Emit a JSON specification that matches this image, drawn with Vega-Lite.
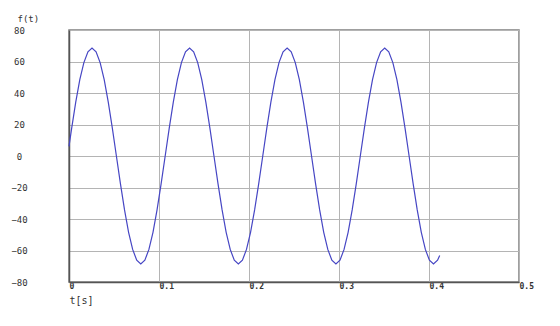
{
  "$schema": "https://vega.github.io/schema/vega-lite/v6.json",
  "autosize": "none",
  "width": 450,
  "height": 252,
  "padding": {"left": 69, "top": 30, "right": 41, "bottom": 44},
  "background": "white",
  "config": {
    "view": {"stroke": "#808080", "strokeWidth": 1.5},
    "font": "DejaVu Sans Mono"
  },
  "data": {
    "values": [
      {"t": 0.0, "f": 6.1},
      {"t": 0.00298, "f": 17.73},
      {"t": 0.00749, "f": 34.25},
      {"t": 0.01201, "f": 48.44},
      {"t": 0.01653, "f": 59.32},
      {"t": 0.02104, "f": 66.17},
      {"t": 0.02556, "f": 68.5},
      {"t": 0.03008, "f": 66.17},
      {"t": 0.03459, "f": 59.32},
      {"t": 0.03911, "f": 48.44},
      {"t": 0.04363, "f": 34.25},
      {"t": 0.04815, "f": 17.73},
      {"t": 0.05266, "f": 0},
      {"t": 0.05718, "f": -17.73},
      {"t": 0.0617, "f": -34.25},
      {"t": 0.06621, "f": -48.44},
      {"t": 0.07073, "f": -59.32},
      {"t": 0.07525, "f": -66.17},
      {"t": 0.07976, "f": -68.5},
      {"t": 0.08428, "f": -66.17},
      {"t": 0.0888, "f": -59.32},
      {"t": 0.09332, "f": -48.44},
      {"t": 0.09783, "f": -34.25},
      {"t": 0.10235, "f": -17.73},
      {"t": 0.10687, "f": 0},
      {"t": 0.11138, "f": 17.73},
      {"t": 0.1159, "f": 34.25},
      {"t": 0.12042, "f": 48.44},
      {"t": 0.12493, "f": 59.32},
      {"t": 0.12945, "f": 66.17},
      {"t": 0.13397, "f": 68.5},
      {"t": 0.13849, "f": 66.17},
      {"t": 0.143, "f": 59.32},
      {"t": 0.14752, "f": 48.44},
      {"t": 0.15204, "f": 34.25},
      {"t": 0.15656, "f": 17.73},
      {"t": 0.16107, "f": 0},
      {"t": 0.16559, "f": -17.73},
      {"t": 0.17011, "f": -34.25},
      {"t": 0.17462, "f": -48.44},
      {"t": 0.17914, "f": -59.32},
      {"t": 0.18366, "f": -66.17},
      {"t": 0.18817, "f": -68.5},
      {"t": 0.19269, "f": -66.17},
      {"t": 0.19721, "f": -59.32},
      {"t": 0.20173, "f": -48.44},
      {"t": 0.20624, "f": -34.25},
      {"t": 0.21076, "f": -17.73},
      {"t": 0.21528, "f": 0},
      {"t": 0.21979, "f": 17.73},
      {"t": 0.22431, "f": 34.25},
      {"t": 0.22883, "f": 48.44},
      {"t": 0.23334, "f": 59.32},
      {"t": 0.23786, "f": 66.17},
      {"t": 0.24238, "f": 68.5},
      {"t": 0.2469, "f": 66.17},
      {"t": 0.25141, "f": 59.32},
      {"t": 0.25593, "f": 48.44},
      {"t": 0.26045, "f": 34.25},
      {"t": 0.26496, "f": 17.73},
      {"t": 0.26948, "f": 0},
      {"t": 0.274, "f": -17.73},
      {"t": 0.27851, "f": -34.25},
      {"t": 0.28303, "f": -48.44},
      {"t": 0.28755, "f": -59.32},
      {"t": 0.29207, "f": -66.17},
      {"t": 0.29658, "f": -68.5},
      {"t": 0.3011, "f": -66.17},
      {"t": 0.30562, "f": -59.32},
      {"t": 0.31013, "f": -48.44},
      {"t": 0.31465, "f": -34.25},
      {"t": 0.31917, "f": -17.73},
      {"t": 0.32368, "f": 0},
      {"t": 0.3282, "f": 17.73},
      {"t": 0.33272, "f": 34.25},
      {"t": 0.33724, "f": 48.44},
      {"t": 0.34175, "f": 59.32},
      {"t": 0.34627, "f": 66.17},
      {"t": 0.35079, "f": 68.5},
      {"t": 0.3553, "f": 66.17},
      {"t": 0.35982, "f": 59.32},
      {"t": 0.36434, "f": 48.44},
      {"t": 0.36885, "f": 34.25},
      {"t": 0.37337, "f": 17.73},
      {"t": 0.37789, "f": 0},
      {"t": 0.38241, "f": -17.73},
      {"t": 0.38692, "f": -34.25},
      {"t": 0.39144, "f": -48.44},
      {"t": 0.39596, "f": -59.32},
      {"t": 0.40047, "f": -66.17},
      {"t": 0.40499, "f": -68.5},
      {"t": 0.40951, "f": -66.17},
      {"t": 0.4119, "f": -63.1}
    ]
  },
  "mark": {"type": "line", "color": "#4646c4", "strokeWidth": 1.2, "interpolate": "linear"},
  "encoding": {
    "x": {
      "field": "t",
      "type": "quantitative",
      "scale": {"domain": [0, 0.5], "nice": false, "zero": false},
      "axis": {
        "values": [0, 0.1, 0.2, 0.3, 0.4, 0.5],
        "format": "~g",
        "ticks": false,
        "labelPadding": 4,
        "labelAlign": "left",
        "labelBaseline": "middle",
        "labelFlush": false,
        "labelFontSize": 8,
        "labelFontWeight": "bold",
        "labelColor": "#333333",
        "grid": true,
        "gridColor": "#b4b4b4",
        "gridWidth": 1,
        "domainColor": "#555555",
        "domainWidth": 1.5,
        "title": "t[s]",
        "titleX": 0,
        "titleY": 18,
        "titleAlign": "left",
        "titleBaseline": "middle",
        "titleFontSize": 10,
        "titleFontWeight": "normal",
        "titleColor": "#333333"
      }
    },
    "y": {
      "field": "f",
      "type": "quantitative",
      "scale": {"domain": [-80, 80], "nice": false, "zero": false},
      "axis": {
        "values": [-80, -60, -40, -20, 0, 20, 40, 60, 80],
        "ticks": false,
        "labelPadding": 50,
        "labelAlign": "center",
        "labelBaseline": "middle",
        "labelFontSize": 9,
        "labelColor": "#333333",
        "grid": true,
        "gridColor": "#b4b4b4",
        "gridWidth": 1,
        "domainColor": "#555555",
        "domainWidth": 1.5,
        "title": "f(t)",
        "titleAngle": 0,
        "titleX": -52,
        "titleY": -12,
        "titleAlign": "left",
        "titleBaseline": "middle",
        "titleFontSize": 9,
        "titleFontWeight": "normal",
        "titleColor": "#333333"
      }
    }
  }
}
